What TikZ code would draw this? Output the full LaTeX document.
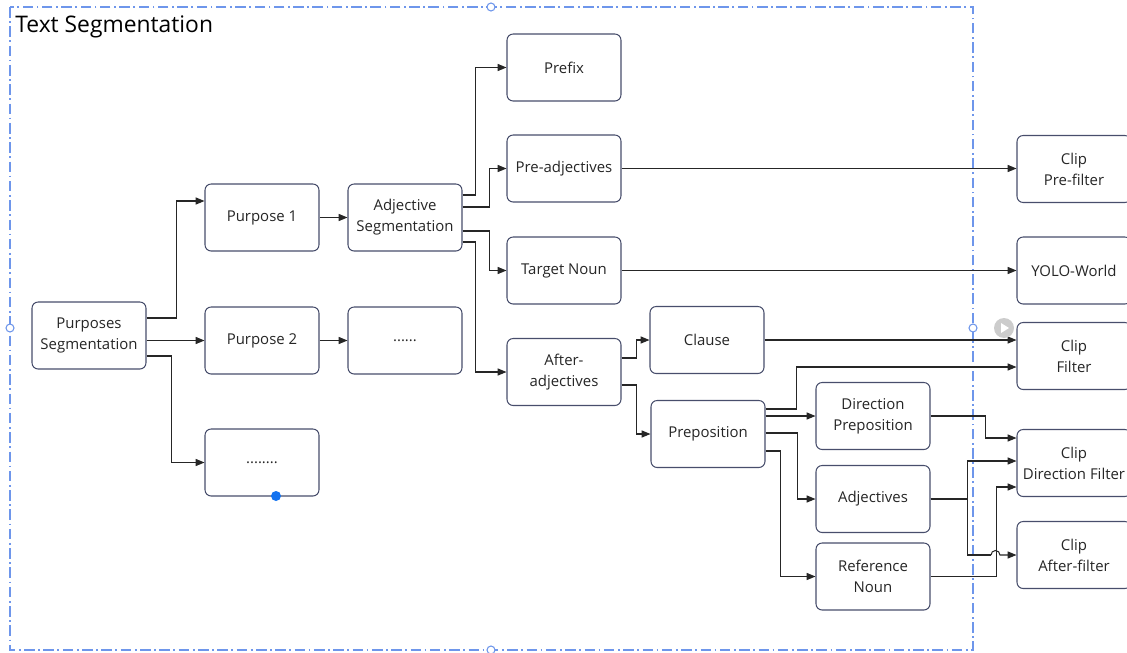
\documentclass[tikz,border=0pt]{standalone}
\usepackage{fontspec}
\setmainfont{Open Sans}
\usetikzlibrary{positioning,calc,arrows.meta}
\definecolor{boxline}{RGB}{72,78,108}
\definecolor{frameblue}{RGB}{110,150,235}
\definecolor{dotblue}{RGB}{20,115,240}
\tikzstyle{line} = [draw, black!85, line width=0.6pt, -{Triangle[length=5pt,width=4pt]}]
\tikzstyle{wire} = [draw, black!85, line width=0.6pt]

\begin{document}
\begin{tikzpicture}[x=0.02cm, y=-0.02cm,
            block/.style={draw=boxline, line width=0.6pt, rounded corners=3.5pt,
            fill=white, text=black!85, minimum width=2.28cm, minimum height=1.34cm,
            align=center, inner sep=1pt, font=\fontsize{8.5}{12}\selectfont},
            grip/.style={circle, draw=frameblue, fill=white, line width=0.6pt,
            minimum size=0.16cm, inner sep=0pt}]
            \useasboundingbox (0,0) rectangle (1127,653);
            %% group frame
            \draw[frameblue, line width=0.6pt, dash pattern=on 6pt off 2pt on 1pt off 2pt] (10,7) rectangle (973,650);
            \node[anchor=west, text=black, inner sep=0pt, font=\fontsize{13}{15}\selectfont] (title) at (15,27) {Text Segmentation};
            %% blocks
            \node[block] (ps) at (89,335.5) {Purposes\\Segmentation};
            \node[block] (p1) at (262,217.5) {Purpose 1};
            \node[block] (p2) at (262,340.5) {Purpose 2};
            \node[block] (more1) at (262,462.5) {........};
            \node[block] (adj) at (405,217.5) {Adjective\\Segmentation};
            \node[block] (more2) at (405,340.5) {......};
            \node[block] (prefix) at (564,67.5) {Prefix};
            \node[block] (pre) at (564,168.5) {Pre-adjectives};
            \node[block] (tn) at (564,270.5) {Target Noun};
            \node[block] (after) at (564,372) {After-\\adjectives};
            \node[block] (clause) at (707,340) {Clause};
            \node[block] (prep) at (708,434) {Preposition};
            \node[block] (dirp) at (873,416) {Direction\\Preposition};
            \node[block] (adjs) at (873,499) {Adjectives};
            \node[block] (refn) at (873,576.5) {Reference\\Noun};
            %% outputs
            \node[block] (cpre) at (1074,169) {Clip\\Pre-filter};
            \node[block] (yolo) at (1074,270.5) {YOLO-World};
            \node[block] (cfil) at (1074,356) {Clip\\Filter};
            \node[block] (cdir) at (1074,463) {Clip\\Direction Filter};
            \node[block] (caft) at (1074,555) {Clip\\After-filter};
            %% purposes
            \path[line] ($(ps.east)+(0,-17.5)$) -- ++(30,0) |- ($(p1.west)+(0,-16.5)$);
            \path[line] (ps.east |- p2.west) -- (p2.west);
            \path[line] ($(ps.east)+(0,20.5)$) -- ++(25,0) |- (more1.west);
            \path[line] (p1.east) -- (adj.west);
            \path[line] (p2.east) -- (more2.west);
            %% adjective segmentation
            \path[line] ($(adj.east)+(0,-22.5)$) -- ++(13,0) |- (prefix.west);
            \path[line] ($(adj.east)+(0,-10.5)$) -- ++(27,0) |- (pre.west);
            \path[line] ($(adj.east)+(0,13.5)$) -- ++(27,0) |- (tn.west);
            \path[line] ($(adj.east)+(0,24.5)$) -- ++(13,0) |- (after.west);
            \path[line] (pre.east) -- (cpre.west |- pre.east);
            \path[line] (tn.east) -- (yolo.west |- tn.east);
            %% after-adjectives
            \path[line] ($(after.east)+(0,-14)$) -- ++(15,0) |- (clause.west);
            \path[line] ($(after.east)+(0,13)$) -- ++(15,0) |- (prep.west);
            \path[line] (clause.east) -- (cfil.west |- clause.east);
            %% preposition
            \path[line] ($(prep.east)+(0,-25)$) -- ++(31,0) |- ($(cfil.west)+(0,11)$);
            \path[line] (prep.east |- dirp.west) -- (dirp.west);
            \path[line] ($(prep.east)+(0,-1)$) -- ++(32,0) |- (adjs.west);
            \path[line] ($(prep.east)+(0,17)$) -- ++(15,0) |- (refn.west);
            %% to the clip filters
            \path[line] (dirp.east) -- ++(55,0) |- ($(cdir.west)+(0,-25)$);
            \path[line] (adjs.east) -- ++(37,0) |- ($(cdir.west)+(0,-2)$);
            \path[line] (refn.east) -- ++(66,0) |- ($(cdir.west)+(0,24)$);
            \path[wire] (adjs.east) -- ++(37,0) |- ($(caft.west)+(-25.5,0)$) coordinate (hopin);
            \path[line] (hopin) arc[start angle=180, end angle=0, radius=0.09cm] -- (caft.west);
            %% editor marks
            \node[grip] (gtop) at (491,7) {};
            \node[grip] (gleft) at (10,328) {};
            \node[grip] (gright) at (973,328) {};
            \node[grip] (gbottom) at (491,650) {};
            \node[circle, fill=dotblue, minimum size=0.2cm, inner sep=0pt] (gdot) at (276,496) {};
            \node[circle, fill=black!20, minimum size=0.4cm, inner sep=0pt] (play) at (1004,328) {};
            \fill[white] ($(play)+(-3,-5)$) -- ($(play)+(5,0)$) -- ($(play)+(-3,5)$) -- cycle;
        \end{tikzpicture}
\end{document}
